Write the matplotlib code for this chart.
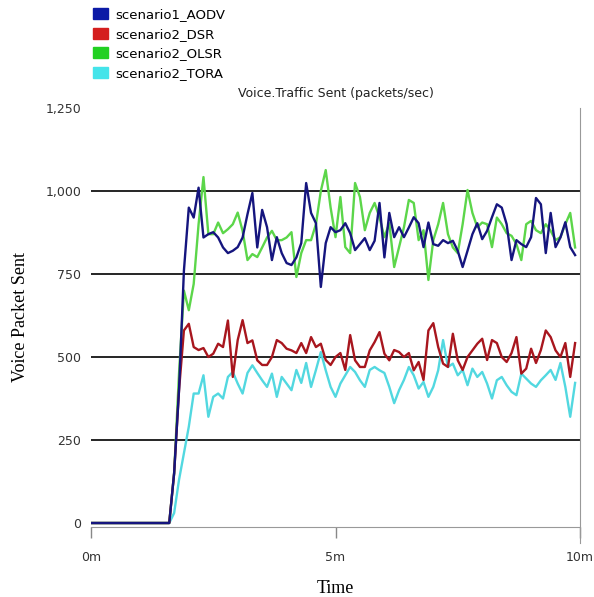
import numpy as np
import matplotlib
matplotlib.use("Agg")
import matplotlib.pyplot as plt
from matplotlib.patches import Patch
from matplotlib.ticker import FuncFormatter

# time axis in minutes (one sample every 0.1 min)
time_min = np.round(np.arange(100) * 0.1, 1)

aodv = [0, 0, 0, 0, 0, 0, 0, 0, 0, 0,
        0, 0, 0, 0, 0, 0, 0, 150, 400, 760,
        950, 920, 1010, 860, 870, 876, 860, 830, 813, 820,
        831, 860, 930, 994, 830, 943, 891, 792, 861, 813,
        783, 777, 800, 843, 1024, 934, 903, 711, 843, 891,
        876, 882, 903, 873, 822, 840, 858, 822, 850, 964,
        800, 934, 861, 891, 861, 890, 921, 903, 831, 905,
        840, 835, 852, 843, 850, 820, 771, 820, 870, 903,
        855, 880, 921, 960, 950, 900, 792, 852, 840, 831,
        861, 979, 960, 813, 934, 831, 860, 906, 831, 807]

olsr = [0, 0, 0, 0, 0, 0, 0, 0, 0, 0,
        0, 0, 0, 0, 0, 0, 0, 150, 450, 700,
        641, 720, 900, 1042, 870, 870, 905, 873, 885, 900,
        935, 880, 792, 810, 801, 830, 860, 880, 852, 852,
        860, 876, 741, 813, 852, 852, 900, 1000, 1063, 950,
        861, 982, 831, 813, 1024, 982, 882, 934, 964, 920,
        861, 903, 771, 831, 891, 973, 964, 852, 882, 732,
        852, 900, 964, 870, 830, 813, 900, 1003, 934, 891,
        905, 900, 831, 920, 900, 873, 865, 840, 792, 900,
        910, 882, 873, 900, 880, 852, 861, 900, 934, 830]

dsr = [0, 0, 0, 0, 0, 0, 0, 0, 0, 0,
       0, 0, 0, 0, 0, 0, 0, 150, 400, 580,
       600, 530, 521, 527, 500, 510, 540, 530, 610, 440,
       551, 611, 542, 550, 490, 476, 476, 500, 551, 542,
       525, 520, 512, 542, 512, 560, 530, 540, 491, 476,
       500, 512, 461, 566, 490, 470, 470, 520, 545, 575,
       510, 490, 521, 515, 500, 512, 460, 485, 431, 580,
       602, 530, 480, 470, 570, 490, 461, 500, 520, 540,
       555, 491, 551, 542, 500, 485, 512, 560, 450, 465,
       525, 482, 521, 580, 560, 520, 500, 542, 440, 542]

tora = [0, 0, 0, 0, 0, 0, 0, 0, 0, 0,
        0, 0, 0, 0, 0, 0, 0, 30, 130, 210,
        290, 390, 390, 445, 320, 380, 390, 375, 440, 455,
        420, 390, 452, 475, 452, 430, 410, 450, 380, 440,
        420, 400, 461, 422, 482, 410, 461, 515, 460, 410,
        380, 420, 445, 470, 455, 430, 410, 461, 470, 460,
        452, 410, 361, 400, 431, 470, 445, 405, 425, 380,
        410, 460, 551, 470, 480, 445, 461, 415, 465, 440,
        455, 420, 375, 430, 440, 415, 395, 385, 450, 435,
        420, 410, 430, 445, 461, 431, 482, 410, 320, 422]

labels = ["scenario1_AODV", "scenario2_DSR", "scenario2_OLSR", "scenario2_TORA"]
patch_colors = ["#0c1aa6", "#d41e1e", "#22d022", "#44e4ea"]
line_colors = ["#15157e", "#a8161e", "#5cd64a", "#52d8e0"]

y_ticks = [0, 250, 500, 750, 1000, 1250]
x_ticks = [0, 5, 10]
x_labels = ["0m", "5m", "10m"]

fig = plt.figure(figsize=(5.94, 5.97), dpi=100)
ax = fig.add_axes([91 / 594, 70 / 597, (580 - 91) / 594, (527 - 108) / 597])

# drawing order: cyan, green, red, blue on top
ax.plot(time_min, tora, color=line_colors[3], lw=1.7)
ax.plot(time_min, olsr, color=line_colors[2], lw=1.7)
ax.plot(time_min, dsr, color=line_colors[1], lw=1.7)
ax.plot(time_min, aodv, color=line_colors[0], lw=1.7)

ax.set_xlim(0, 10)
ax.set_ylim(-12, 1250)
ax.set_xticks(x_ticks)
ax.set_xticklabels(x_labels)
ax.set_yticks(y_ticks)
ax.yaxis.set_major_formatter(FuncFormatter(lambda v, p: f"{int(v):,}"))

ax.grid(axis="y", color="black", lw=1.2)
gl = ax.get_ygridlines()
gl[0].set_visible(False)
gl[-1].set_visible(False)
ax.set_axisbelow(True)

for s in ["left", "top"]:
    ax.spines[s].set_visible(False)
ax.spines["bottom"].set_color("#999999")
ax.spines["right"].set_color("#999999")
ax.spines["right"].set_bounds(-60, 1250)

ax.tick_params(axis="y", length=0, pad=7, labelsize=9, labelcolor="#333333")
ax.tick_params(axis="x", length=8, width=1, color="#888888", pad=9.5,
               labelsize=9, labelcolor="#333333")

ax.set_title("Voice.Traffic Sent (packets/sec)", fontsize=9, color="#222222", pad=8)
ax.set_xlabel("Time", family="Liberation Serif", fontsize=13, labelpad=11.5)
ax.set_ylabel("Voice Packet Sent", family="Liberation Serif", fontsize=13, labelpad=12)

handles = [Patch(facecolor=c, edgecolor=c) for c in patch_colors]
fig.legend(handles, labels, loc="upper left", bbox_to_anchor=(93 / 594, 1 - 8 / 597),
           frameon=False, fontsize=9.5, handlelength=1.1, handleheight=0.9,
           handletextpad=0.6, labelspacing=0.5, borderpad=0, borderaxespad=0)

fig.savefig("out.png", dpi=100, facecolor="white")
